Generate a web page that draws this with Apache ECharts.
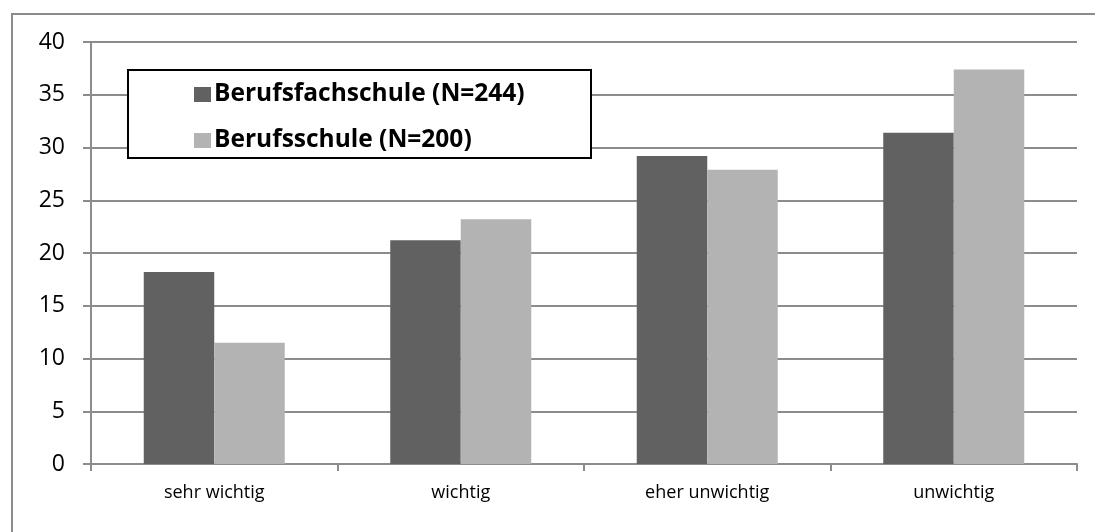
<!DOCTYPE html>
<html>
<head>
<meta charset="utf-8">
<script src="https://cdn.jsdelivr.net/npm/echarts@6/dist/echarts.min.js"></script>
<style>
  html, body { margin: 0; padding: 0; background: #fff; }
  #chart { width: 1095px; height: 532px; }
</style>
</head>
<body>
<div id="chart"></div>
<script>
// Bewertung nach Schulform, Angaben in Prozent
const categories = ['sehr wichtig', 'wichtig', 'eher unwichtig', 'unwichtig'];
const berufsfachschule = [18.2, 21.2, 29.2, 31.4];
const berufsschule = [11.5, 23.2, 27.9, 37.4];
const seriesNames = ['Berufsfachschule (N=244)', 'Berufsschule (N=200)'];
const yTicks = { min: 0, max: 40, interval: 5 };

const gridColor = '#8c8c8c';
const font = '"Open Sans", "Liberation Sans", sans-serif';

const chart = echarts.init(document.getElementById('chart'), null, { renderer: 'canvas' });
chart.setOption({
  animation: false,
  backgroundColor: '#fff',
  grid: { left: 91, right: 18, top: 42, bottom: 68 },
  graphic: [
    {
      type: 'rect', z: -10,
      shape: { x: 12, y: 14, width: 1200, height: 600 },
      style: { fill: 'none', stroke: '#8c8c8c', lineWidth: 2 }
    },
    {
      type: 'rect', z: 50,
      shape: { x: 128, y: 70, width: 463, height: 88 },
      style: { fill: '#fff', stroke: '#000', lineWidth: 2 }
    }
  ],
  legend: {
    orient: 'vertical',
    left: 189, top: 77,
    z: 60,
    itemWidth: 17, itemHeight: 15, itemGap: 21,
    icon: 'rect',
    textStyle: { fontFamily: font, fontWeight: 'bold', fontSize: 24.5, lineHeight: 24, color: '#000', padding: [0, 0, 0, -2] },
    data: seriesNames
  },
  xAxis: {
    type: 'category',
    data: categories,
    boundaryGap: true,
    axisLine: { lineStyle: { color: gridColor, width: 2 } },
    axisTick: { show: true, length: 7, lineStyle: { color: gridColor, width: 2 } },
    axisLabel: { margin: 20, fontFamily: font, fontSize: 18, color: '#000' }
  },
  yAxis: {
    type: 'value',
    min: yTicks.min, max: yTicks.max, interval: yTicks.interval,
    axisLine: { show: true, lineStyle: { color: gridColor, width: 2 } },
    axisTick: { show: true, length: 8, lineStyle: { color: gridColor, width: 2 } },
    splitLine: { lineStyle: { color: gridColor, width: 2 } },
    axisLabel: { margin: 26, fontFamily: font, fontSize: 23, color: '#000' }
  },
  series: [
    {
      name: seriesNames[0], type: 'bar', data: berufsfachschule,
      barGap: '0%', barCategoryGap: '42.8%',
      itemStyle: { color: '#616161' }
    },
    {
      name: seriesNames[1], type: 'bar', data: berufsschule,
      barGap: '0%', barCategoryGap: '42.8%',
      itemStyle: { color: '#b3b3b3' }
    }
  ]
});
</script>
</body>
</html>
